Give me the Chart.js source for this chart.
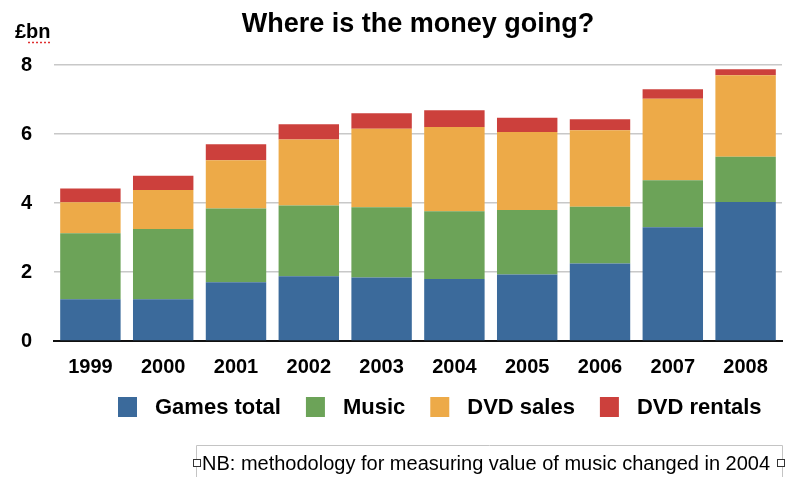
<!DOCTYPE html>
<html>
<head>
<meta charset="utf-8">
<script src="https://cdn.jsdelivr.net/npm/chart.js@4.4.1/dist/chart.umd.min.js"></script>
<style>
  html, body { margin: 0; padding: 0; background: #ffffff; }
  #wrap { position: relative; width: 789px; height: 477px; }
</style>
</head>
<body>
<div id="wrap"><canvas id="c" width="789" height="477"></canvas></div>
<script>
const categories = ['1999', '2000', '2001', '2002', '2003', '2004', '2005', '2006', '2007', '2008'];
const gamesTotal = [1.21, 1.21, 1.70, 1.88, 1.84, 1.80, 1.93, 2.25, 3.30, 4.03];
const music      = [1.91, 2.04, 2.14, 2.05, 2.04, 1.96, 1.87, 1.64, 1.36, 1.31];
const dvdSales   = [0.90, 1.13, 1.40, 1.91, 2.27, 2.44, 2.26, 2.22, 2.36, 2.36];
const dvdRentals = [0.40, 0.41, 0.46, 0.44, 0.45, 0.49, 0.41, 0.32, 0.28, 0.18];
const seriesNames = ['Games total', 'Music', 'DVD sales', 'DVD rentals'];
const yTicks = [0, 2, 4, 6, 8];
const titleText = 'Where is the money going?';
const unitText = '£bn';
const noteText = 'NB: methodology for measuring value of music changed in 2004';

const colors = ['#3b6a9b', '#6ca358', '#edaa48', '#cc403c'];
const FONT = '"Liberation Sans", Arial, Helvetica, sans-serif';

const extras = {
  id: 'extras',
  afterDraw(chart) {
    const ctx = chart.ctx;
    const area = chart.chartArea;
    ctx.save();
    // Title
    ctx.fillStyle = '#000';
    ctx.font = 'bold 27px ' + FONT;
    ctx.textAlign = 'center';
    ctx.textBaseline = 'alphabetic';
    ctx.fillText(titleText, (area.left + area.right) / 2, 32);
    // Unit label
    ctx.font = 'bold 20px ' + FONT;
    ctx.textAlign = 'left';
    ctx.fillText(unitText, 15, 38);
    // red dotted underline
    ctx.strokeStyle = '#e03030';
    ctx.lineWidth = 1.5;
    ctx.setLineDash([2, 2]);
    ctx.beginPath();
    ctx.moveTo(28, 42.5);
    ctx.lineTo(51, 42.5);
    ctx.stroke();
    ctx.setLineDash([]);

    // Legend
    ctx.font = 'bold 22px ' + FONT;
    ctx.textBaseline = 'middle';
    let x = 118;
    const yc = 407;
    chart.data.datasets.forEach((ds) => {
      ctx.fillStyle = ds.backgroundColor;
      ctx.fillRect(x, yc - 10, 19, 20);
      x += 19 + 18;
      ctx.fillStyle = '#000';
      ctx.fillText(ds.label, x, yc + 1);
      x += ctx.measureText(ds.label).width + 25;
    });

    // Note box
    ctx.strokeStyle = '#c4c4c4';
    ctx.lineWidth = 1;
    ctx.beginPath();
    ctx.moveTo(196.5, 480);
    ctx.lineTo(196.5, 445.5);
    ctx.lineTo(782.5, 445.5);
    ctx.lineTo(782.5, 480);
    ctx.stroke();
    ctx.strokeStyle = '#333';
    ctx.fillStyle = '#fff';
    ctx.fillRect(193.5, 459.5, 7, 7);
    ctx.strokeRect(193.5, 459.5, 7, 7);
    ctx.fillRect(777.5, 459.5, 7, 7);
    ctx.strokeRect(777.5, 459.5, 7, 7);
    ctx.fillStyle = '#000';
    ctx.font = '20px ' + FONT;
    ctx.textAlign = 'left';
    ctx.textBaseline = 'alphabetic';
    ctx.fillText(noteText, 202, 470);
    ctx.restore();
  }
};

const seriesValues = [gamesTotal, music, dvdSales, dvdRentals];

new Chart(document.getElementById('c'), {
  type: 'bar',
  data: {
    labels: categories,
    datasets: seriesNames.map((name, i) => ({
      label: name,
      data: seriesValues[i],
      backgroundColor: colors[i],
      borderWidth: 0,
      categoryPercentage: 1.0,
      barPercentage: 0.83
    }))
  },
  options: {
    responsive: false,
    animation: false,
    layout: { padding: { top: 65, right: 7, bottom: 96, left: 0 } },
    plugins: {
      legend: { display: false },
      title: { display: false },
      tooltip: { enabled: false }
    },
    scales: {
      x: {
        stacked: true,
        grid: { display: false, drawTicks: false },
        border: { display: true, color: '#111', width: 2 },
        ticks: {
          color: '#000',
          font: { family: FONT, size: 20, weight: 'bold' },
          padding: 14,
          maxRotation: 0
        },
        afterFit(scale) { scale.height = 40; }
      },
      y: {
        stacked: true,
        min: 0,
        max: 8,
        afterBuildTicks(scale) { scale.ticks = yTicks.map(v => ({ value: v })); },
        grid: { color: '#c8c8c8', lineWidth: 1.5, drawTicks: false },
        border: { display: false },
        ticks: {
          color: '#000',
          font: { family: FONT, size: 20, weight: 'bold' },
          padding: 22
        },
        afterFit(scale) { scale.width = 54; }
      }
    }
  },
  plugins: [extras]
});
</script>
</body>
</html>
